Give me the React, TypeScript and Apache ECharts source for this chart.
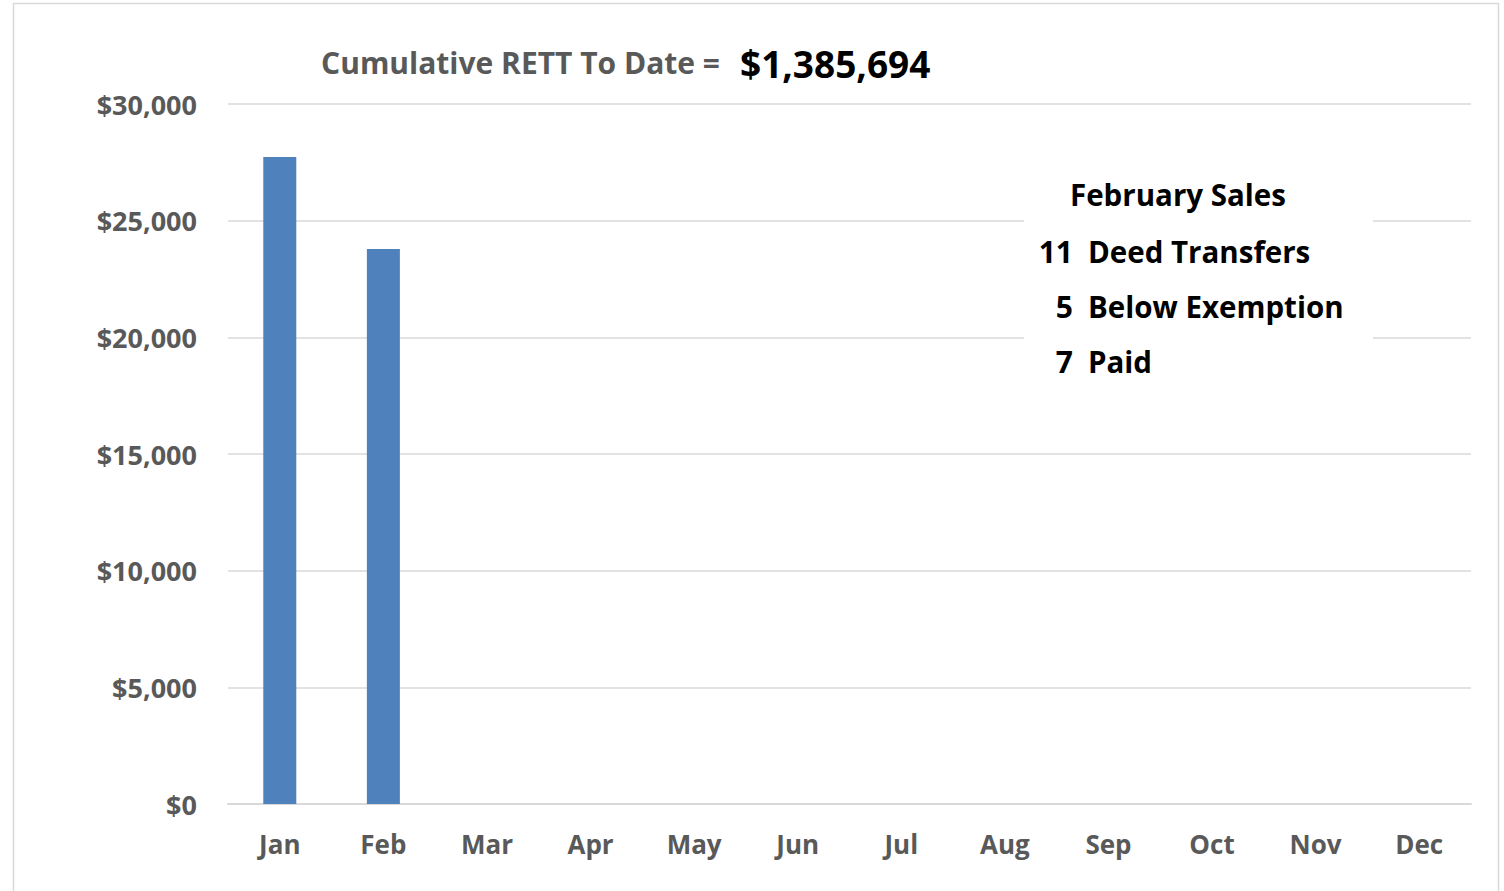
import React, { useEffect, useRef } from "react";
import * as echarts from "echarts";

const months = ["Jan", "Feb", "Mar", "Apr", "May", "Jun", "Jul", "Aug", "Sep", "Oct", "Nov", "Dec"];
const rettValues: (number | null)[] = [27730, 23790, null, null, null, null, null, null, null, null, null, null];
const yTicks = { min: 0, max: 30000, interval: 5000 };
const titleLabel = "Cumulative RETT To Date =";
const cumulativeTotal = "$1,385,694";
const salesTitle = "February Sales";
const salesLines = [
  { count: "11", label: "Deed Transfers" },
  { count: "5", label: "Below Exemption" },
  { count: "7", label: "Paid" },
];

const FONT = "'Open Sans', 'Noto Sans', sans-serif";

export default function App() {
  const ref = useRef<HTMLDivElement>(null);
  useEffect(() => {
    if (!ref.current) return;
    const chart = echarts.init(ref.current, null, { renderer: "svg" });
    const fmt = (v: number) => "$" + v.toLocaleString("en-US");
    chart.setOption({
      animation: false,
      backgroundColor: "#ffffff",
      grid: { left: 228, right: 33, top: 104, bottom: 87, containLabel: false },
      xAxis: {
        type: "category",
        data: months,
        axisLine: { show: true, lineStyle: { color: "#d9d9d9", width: 2 } },
        axisTick: { show: false },
        axisLabel: { color: "#595959", fontFamily: FONT, fontWeight: "bold", fontSize: 26, margin: 27 },
      },
      yAxis: {
        type: "value",
        min: yTicks.min,
        max: yTicks.max,
        interval: yTicks.interval,
        axisLine: { show: false },
        axisTick: { show: false },
        splitLine: { lineStyle: { color: "#d9d9d9", width: 1.5 } },
        axisLabel: { color: "#595959", fontFamily: FONT, fontWeight: "bold", fontSize: 27, margin: 31, formatter: fmt },
      },
      series: [
        {
          type: "bar",
          data: rettValues,
          barWidth: 33,
          itemStyle: { color: "#4f81bd" },
        },
      ],
      graphic: [
        {
          type: "rect",
          shape: { x: 13.5, y: 3.5, width: 1485, height: 900 },
          style: { fill: "none", stroke: "#d9d9d9", lineWidth: 1.5 },
          silent: true,
        },
        {
          type: "rect",
          shape: { x: 1024, y: 168, width: 349, height: 218 },
          style: { fill: "#ffffff" },
          z: 10,
        },
        {
          type: "text",
          x: 720, y: 62,
          style: { text: titleLabel, fill: "#595959", font: `bold 30px ${FONT}`, align: "right", verticalAlign: "middle" },
          z: 11,
        },
        {
          type: "text",
          x: 740, y: 63,
          style: { text: cumulativeTotal, fill: "#000000", font: `bold 37px ${FONT}`, align: "left", verticalAlign: "middle" },
          z: 11,
        },
        {
          type: "text",
          x: 1070, y: 194,
          style: { text: salesTitle, fill: "#000000", font: `bold 29.5px ${FONT}`, align: "left", verticalAlign: "middle" },
          z: 11,
        },
        ...salesLines.flatMap((l, i) => [
          {
            type: "text",
            x: 1073, y: 251 + i * 55,
            style: { text: l.count, fill: "#000000", font: `bold 30px ${FONT}`, align: "right", verticalAlign: "middle" },
            z: 11,
          },
          {
            type: "text",
            x: 1088, y: 251 + i * 55,
            style: { text: l.label, fill: "#000000", font: `bold 29.5px ${FONT}`, align: "left", verticalAlign: "middle" },
            z: 11,
          },
        ]),
      ],
    });
    return () => chart.dispose();
  }, []);
  return <div ref={ref} style={{ position: "fixed", left: 0, top: 0, width: 1504, height: 891 }} />;
}
